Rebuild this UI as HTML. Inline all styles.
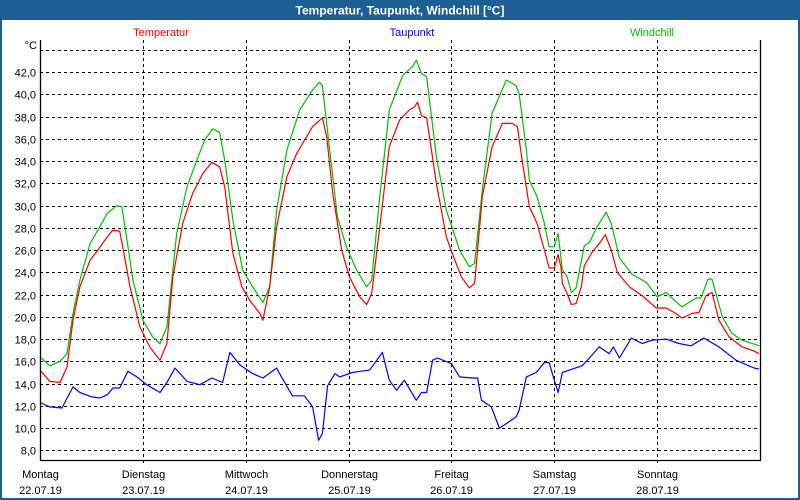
<!DOCTYPE html>
<html><head><meta charset="utf-8"><style>
html,body{margin:0;padding:0;background:#fff}
svg{display:block;font-family:"Liberation Sans",sans-serif}
</style></head><body>
<svg id="chart" width="800" height="500" viewBox="0 0 800 500">
<rect x="0" y="0" width="800" height="500" fill="#1d5f94"/>
<rect x="2" y="20" width="796" height="478" fill="#ffffff"/>
<text x="400" y="14.5" text-anchor="middle" fill="#fff" font-size="12" font-weight="bold">Temperatur, Taupunkt, Windchill [°C]</text>
<text x="161" y="36" text-anchor="middle" fill="#ff0000" font-size="11">Temperatur</text>
<text x="412" y="36" text-anchor="middle" fill="#0000ff" font-size="11">Taupunkt</text>
<text x="652" y="36" text-anchor="middle" fill="#00c000" font-size="11">Windchill</text>
<text x="37" y="49" text-anchor="end" fill="#000" font-size="11">°C</text>
<g id="grid"></g>
<g id="series"></g>
<g id="axes"></g>
</svg>
<script>
const dayNames = ["Montag","Dienstag","Mittwoch","Donnerstag","Freitag","Samstag","Sonntag"];
const dayDates = ["22.07.19","23.07.19","24.07.19","25.07.19","26.07.19","27.07.19","28.07.19"];
const yTicks = [8,10,12,14,16,18,20,22,24,26,28,30,32,34,36,38,40,42,44];
const yTickLabels = ["8,0","10,0","12,0","14,0","16,0","18,0","20,0","22,0","24,0","26,0","28,0","30,0","32,0","34,0","36,0","38,0","40,0","42,0",""];
const tempHours = [0,2.3,4.7,6.3,7.7,9.3,11.7,13.5,15.7,17,18.6,19.3,21,23.3,25.6,28,29.6,31,33.3,35.6,38,40.1,41.9,43.1,45,47.1,48.9,51.3,52,53.6,55.2,
57.6,59.9,62.2,63.6,65.9,66.9,68.3,70.4,72.2,74.6,76.2,77.4,79.2,81.5,83.9,86.2,87.4,88.1,89,90.2,92.5,94.8,96.2,98.3,100.2,101.4,103.2,105.5,107.9,110.2,111.4,112.5,
114.2,116,117.7,118.8,120,120.9,121.6,121.9,123,124,125.1,126.3,127,128.8,130.5,131.9,133.3,134.7,137.5,140.5,143.8,146.1,148.4,149.8,152.1,153.8,155.4,156.8,158.4,160.8,163.8,166.1,167.8];
const tempValues = [15.2,14.2,14.1,15.5,19.7,22.7,25.1,26.0,27.2,27.8,27.7,26.3,22.7,19.1,17.3,16.1,17.6,23.6,28.4,31.1,32.9,33.9,33.5,31.7,25.7,22.7,21.5,20.3,19.7,22.7,28.1,
32.6,34.7,36.2,37.1,37.9,36.2,31.1,26.0,23.6,21.8,21.1,22.1,27.8,35.3,37.7,38.6,38.9,39.3,38.1,37.9,32.0,27.2,25.7,23.6,22.6,23.0,30.8,35.3,37.4,37.4,37.1,34.1,
29.9,28.4,26.0,24.4,24.4,25.6,24.4,23.0,22.1,21.1,21.2,22.7,24.6,25.8,26.6,27.4,26.0,24.0,22.7,21.9,20.8,20.8,20.3,19.9,20.3,20.4,21.9,22.2,19.7,18.2,17.3,17.0,16.7];
const chillHours = [0,2.3,4.7,6.3,7.7,9.3,11.7,13.5,15.7,17.9,19.1,20.3,21.7,24,26.3,28,29.6,31.9,34.3,36.6,38.4,40.3,41.9,43.1,45,47.3,49.6,52,53.6,55.2,
57.6,60.6,63.6,65.2,65.9,67.6,69.4,71.5,73.9,76.2,77.4,79.2,81.5,84.6,86.9,87.8,89,90.2,92.5,94.8,97.9,100.2,101.4,103.2,105.5,108.8,111.1,111.8,113.5,
114.2,116,117.7,118.8,120,120.9,121.9,123,124,125.1,127,128.2,130,132.1,133.3,135.2,138.2,141.5,144,146.1,148,149.8,153.1,154.2,155.9,156.8,159.2,161.5,163.8,167.1,167.8];
const chillValues = [16.4,15.6,16.0,16.7,20.3,23.3,26.6,27.8,29.3,30.0,29.9,26.9,23.3,19.7,18.2,17.6,19.1,27.5,31.7,34.1,35.9,36.9,36.6,34.1,28.7,24.2,22.7,21.3,22.7,29.6,
35.0,38.6,40.4,41.1,40.8,35.0,29.0,26.3,24.2,22.7,23.3,30.5,38.6,41.7,42.5,43.1,41.9,41.6,34.4,29.6,26.0,24.5,24.8,31.4,38.3,41.3,40.8,40.1,35.0,
32.3,30.8,28.4,26.3,26.3,27.5,24.2,23.6,22.2,22.6,26.4,26.7,28.1,29.4,28.4,25.3,23.8,23.1,21.8,22.2,21.5,20.9,21.7,21.7,23.4,23.4,20.0,18.5,17.9,17.5,17.4];
const dewHours = [0,2.3,5.1,7.7,9.3,12.1,14,15.7,17,18.6,20.5,22.6,24.9,28,29.6,31.5,34.3,37.3,40.1,42.6,44.3,46.6,49.6,52,55.2,
55.9,58.9,61.7,63.6,65,65.9,67.1,68.8,69.9,72.9,74.6,76.9,79.9,81.5,83.2,85,87.8,89,90.2,91.6,92.7,96,97.9,100.9,102.1,103,105.3,107.2,108.8,111.1,111.8,113.5,
115.8,117.7,118.8,120,120.9,121.9,124.2,126.5,128.2,130.5,132.8,133.8,135.2,138,140.5,142.8,146.1,149.1,151.9,154.9,158.4,162.4,166.6,167.8];
const dewValues = [12.3,11.9,11.8,13.7,13.2,12.8,12.7,13.0,13.6,13.6,15.1,14.6,13.9,13.2,14.1,15.4,14.2,13.9,14.5,14.1,16.8,15.7,14.9,14.5,15.4,
14.9,12.9,12.9,11.9,8.9,9.5,13.8,14.9,14.6,15.0,15.1,15.2,16.8,14.3,13.4,14.3,12.5,13.2,13.2,16.1,16.3,15.8,14.6,14.5,14.5,12.5,11.9,10.0,10.4,11.0,11.6,14.6,
15.0,15.9,15.9,14.3,13.2,15.0,15.3,15.6,16.3,17.3,16.7,17.3,16.3,18.1,17.6,17.9,18.0,17.6,17.4,18.1,17.3,16.1,15.4,15.3];

const X0=40, X1=760, Y0=460, YTOP=40, HOURS=168;
const xScale = h => X0 + h*(X1-X0)/HOURS;
const yScale = v => 450.3 - (v-8)*11.12;
const NS="http://www.w3.org/2000/svg";
function mk(tag, attrs, parent){const e=document.createElementNS(NS,tag);for(const k in attrs)e.setAttribute(k,attrs[k]);parent.appendChild(e);return e;}
const grid=document.getElementById('grid'), series=document.getElementById('series'), axes=document.getElementById('axes');

yTicks.forEach((v,i)=>{
  const y=Math.round(yScale(v))+0.5;
  const l=mk('line',{x1:X0,x2:X1,y1:y,y2:y,stroke:'#000','stroke-width':1,'stroke-dasharray':'3,3'},grid);
  
  
  if(yTickLabels[i]){
    const t=mk('text',{x:36,y:y+4,'text-anchor':'end','font-size':11,fill:'#000'},axes);
    t.textContent=yTickLabels[i];
    
    
  }
});
dayNames.forEach((d,i)=>{
  const x=Math.round(xScale(i*24))+0.5;
  if(i>0){
    const l=mk('line',{x1:x,x2:x,y1:YTOP,y2:Y0+4,stroke:'#000','stroke-width':1,'stroke-dasharray':'3,3'},grid);
    
    
  }
  const t1=mk('text',{x:x,y:478,'text-anchor':'middle','font-size':11,fill:'#000'},axes);
  t1.textContent=d;
  
  
  const t2=mk('text',{x:x,y:494,'text-anchor':'middle','font-size':11,fill:'#000'},axes);
  t2.textContent=dayDates[i];
  
  
});
const ax=mk('path',{d:`M${X0+0.5},${YTOP} V${Y0+0.5} H${X1+0.5} V${YTOP}`,fill:'none',stroke:'#000','stroke-width':1.3},axes);



function line(hours, vals, color, name){
  const d=hours.map((h,i)=>(i?'L':'M')+xScale(h).toFixed(1)+','+yScale(vals[i]).toFixed(1)).join(' ');
  const p=mk('path',{d:d,fill:'none',stroke:color,'stroke-width':1.2,'stroke-linejoin':'round'},series);
  
  
}
line(chillHours,chillValues,'#00c000','windchill-line');
line(tempHours,tempValues,'#ff0000','temperatur-line');
line(dewHours,dewValues,'#0000ff','taupunkt-line');
</script>
</body></html>
